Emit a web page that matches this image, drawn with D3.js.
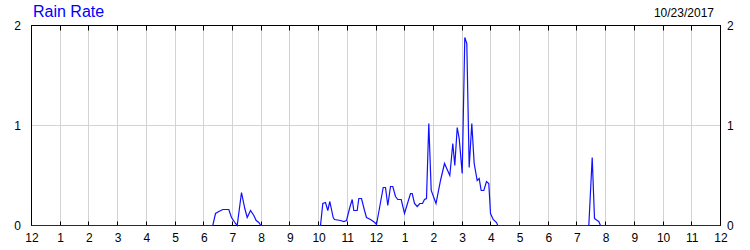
<!DOCTYPE html>
<html>
<head>
<meta charset="utf-8">
<script src="https://cdn.jsdelivr.net/npm/d3@7"></script>
<style>
  body { margin: 0; background: #fff; }
  text { font-family: Arial, "Liberation Sans", sans-serif; }
</style>
</head>
<body>
<div id="my_dataviz"></div>
<script>
// data: hour of day (0-24) and rain rate
var hours = [0, 6.315, 6.41, 6.524, 6.664, 6.873, 6.967, 7.106, 7.165, 7.315, 7.43, 7.514, 7.629, 7.744, 7.827, 7.918, 7.987,
  10.067, 10.147, 10.241, 10.321, 10.391, 10.509, 10.554, 10.764, 10.878, 10.973, 11.087, 11.171, 11.227, 11.345, 11.401, 11.495, 11.6, 11.669, 11.809, 11.958, 12.018,
  12.251, 12.331, 12.411, 12.505, 12.585, 12.679, 12.759, 12.878, 12.993, 13.097, 13.202, 13.261, 13.341, 13.435, 13.526, 13.62, 13.689, 13.759, 13.839, 13.923,
  14.09, 14.247, 14.386, 14.571, 14.675, 14.745, 14.829, 14.898, 15.003, 15.093, 15.163, 15.246, 15.337, 15.42, 15.525, 15.594, 15.664, 15.755, 15.849, 15.929, 15.989, 16.083, 16.198, 16.243,
  19.413, 19.531, 19.611, 19.705, 19.76, 19.82, 24];
var rainRate = [0, 0, 0.12, 0.14, 0.16, 0.16, 0.08, 0.02, 0, 0.33, 0.17, 0.08, 0.15, 0.10, 0.05, 0.03, 0,
  0, 0.22, 0.23, 0.15, 0.24, 0.08, 0.06, 0.05, 0.04, 0.05, 0.18, 0.26, 0.15, 0.15, 0.27, 0.27, 0.15, 0.08, 0.06, 0.03, 0.01,
  0.38, 0.38, 0.20, 0.39, 0.39, 0.29, 0.26, 0.26, 0.12, 0.22, 0.32, 0.32, 0.22, 0.19, 0.22, 0.22, 0.26, 0.27, 1.02, 0.35,
  0.22, 0.45, 0.62, 0.50, 0.82, 0.60, 0.98, 0.87, 0.52, 1.88, 1.82, 0.58, 1.02, 0.62, 0.45, 0.47, 0.35, 0.35, 0.44, 0.42, 0.12, 0.06, 0.03, 0,
  0, 0.68, 0.07, 0.05, 0.04, 0, 0];
var hourTicks = d3.range(0, 25);
var hourLabels = ["12", "1", "2", "3", "4", "5", "6", "7", "8", "9", "10", "11",
  "12", "1", "2", "3", "4", "5", "6", "7", "8", "9", "10", "11", "12"];
var rateTicks = [0, 1, 2];
var title = "Rain Rate";
var dateLabel = "10/23/2017";

var width = 750, height = 250;
var margin = {top: 25, right: 30, bottom: 25, left: 31};

var svg = d3.select("#my_dataviz")
  .append("svg")
    .attr("width", width)
    .attr("height", height);

var x = d3.scaleLinear()
  .domain([0, 24])
  .range([margin.left, width - margin.right]);

var y = d3.scaleLinear()
  .domain([0, 2])
  .range([height - margin.bottom, margin.top]);

var g = svg.append("g")
  .attr("transform", "translate(0.5,0.5)");

// grid lines
g.selectAll(".vgrid")
  .data(hourTicks.slice(1, -1))
  .enter()
  .append("line")
    .attr("x1", function(d) { return Math.round(x(d)); })
    .attr("x2", function(d) { return Math.round(x(d)); })
    .attr("y1", y(2))
    .attr("y2", y(0))
    .style("stroke", "#d3d3d3");

g.selectAll(".hgrid")
  .data(rateTicks.slice(1, -1))
  .enter()
  .append("line")
    .attr("x1", x(0))
    .attr("x2", x(24))
    .attr("y1", function(d) { return y(d); })
    .attr("y2", function(d) { return y(d); })
    .style("stroke", "#d3d3d3");

// tick marks inside the frame, bottom and top
g.selectAll(".btick")
  .data(hourTicks)
  .enter()
  .append("line")
    .attr("x1", function(d) { return Math.round(x(d)); })
    .attr("x2", function(d) { return Math.round(x(d)); })
    .attr("y1", y(0))
    .attr("y2", y(0) - 4)
    .style("stroke", "#000");

g.selectAll(".ttick")
  .data(hourTicks)
  .enter()
  .append("line")
    .attr("x1", function(d) { return Math.round(x(d)); })
    .attr("x2", function(d) { return Math.round(x(d)); })
    .attr("y1", y(2))
    .attr("y2", y(2) + 5)
    .style("stroke", "#000");

// frame
g.append("rect")
  .attr("x", x(0))
  .attr("y", y(2))
  .attr("width", x(24) - x(0))
  .attr("height", y(0) - y(2))
  .style("fill", "none")
  .style("stroke", "#000");

// rain line
var line = d3.line()
  .x(function(d, i) { return x(hours[i]); })
  .y(function(d) { return y(d); });

g.append("path")
  .datum(rainRate)
  .attr("d", line)
  .style("fill", "none")
  .style("stroke", "#1010ff")
  .style("stroke-width", 1.2);

// x labels
svg.selectAll(".xlab")
  .data(hourTicks)
  .enter()
  .append("text")
    .attr("x", function(d) { return x(d) + 1; })
    .attr("y", 242)
    .attr("text-anchor", "middle")
    .style("font-size", "12px")
    .style("fill", "#000")
    .text(function(d, i) { return hourLabels[i]; });

// y labels, both sides
svg.selectAll(".ylabl")
  .data(rateTicks)
  .enter()
  .append("text")
    .attr("x", 21)
    .attr("y", function(d) { return y(d) + 5; })
    .attr("text-anchor", "end")
    .style("font-size", "12px")
    .style("fill", "#000")
    .text(function(d) { return d; });

svg.selectAll(".ylabr")
  .data(rateTicks)
  .enter()
  .append("text")
    .attr("x", 727)
    .attr("y", function(d) { return y(d) + 5; })
    .style("font-size", "12px")
    .style("fill", "#000")
    .text(function(d) { return d; });

// title and date
svg.append("text")
  .attr("x", 33)
  .attr("y", 17)
  .style("font-size", "16px")
  .style("fill", "#0000ff")
  .text(title);

svg.append("text")
  .attr("x", 714)
  .attr("y", 17)
  .attr("text-anchor", "end")
  .style("font-size", "12px")
  .style("fill", "#000")
  .text(dateLabel);
</script>
</body>
</html>
